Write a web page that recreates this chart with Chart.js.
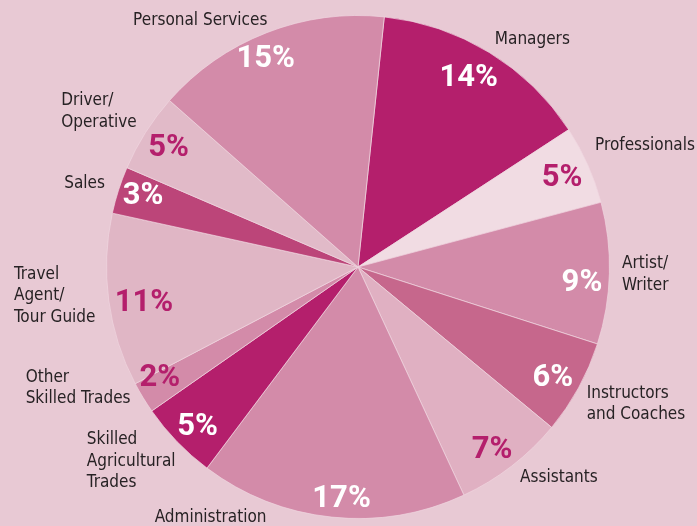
<!DOCTYPE html>
<html lang="en">
<head>
  <meta charset="UTF-8" />
  <title>Occupations pie</title>
  <script src="https://cdn.jsdelivr.net/npm/chart.js"></script>
  <style>
    body {
      margin: 0;
      background-color: #e8c9d4;
    }
    canvas {
      display: block;
    }
  </style>
</head>
<body>
  <canvas id="pieChart" width="697" height="526"></canvas>

  <script>
    // categories, clockwise from the top (line breaks as in the original)
    const categories = [
      ['Managers'],
      ['Professionals'],
      ['Artist/', 'Writer'],
      ['Instructors', 'and Coaches'],
      ['Assistants'],
      ['Administration'],
      ['Skilled', 'Agricultural', 'Trades'],
      ['Other', 'Skilled Trades'],
      ['Travel', 'Agent/', 'Tour Guide'],
      ['Sales'],
      ['Driver/', 'Operative'],
      ['Personal Services']
    ];
    const shares = [14, 5, 9, 6, 7, 17, 5, 2, 11, 3, 5, 15];

    const sliceColors = [
      '#b41f6c', '#f1dce3', '#d38ba9', '#c6678c', '#e0b0c2', '#d38ba9',
      '#b41f6c', '#d38ba9', '#e0b6c5', '#bc4579', '#e1bac8', '#d38ba9'
    ];
    const pctColors = [
      '#ffffff', '#b41f6c', '#ffffff', '#ffffff', '#b41f6c', '#ffffff',
      '#ffffff', '#b41f6c', '#b41f6c', '#ffffff', '#b41f6c', '#ffffff'
    ];

    // % labels inside: radius factor, angle nudge (deg)
    const pctLayout = [
      { r: 0.882, da: -1.5 }, { r: 0.89, da: -0.3 }, { r: 0.892, da: 1.9 },
      { r: 0.885, da: 0.2 }, { r: 0.892, da: 0.9 }, { r: 0.913, da: -1.9 },
      { r: 0.891, da: -0.3 }, { r: 0.897, da: 2.7 }, { r: 0.861, da: -1.2 },
      { r: 0.903, da: 1.1 }, { r: 0.896, da: 0.4 }, { r: 0.914, da: -2.4 }
    ];

    // names outside: radius factor, angle nudge (deg), alignment
    const labelLayout = [
      { r: 1.14, da: 6, align: 'center' },
      { r: 1.06, da: -3.2, align: 'left' },
      { r: 1.05, da: 0.2, align: 'left' },
      { r: 1.06, da: 2.2, align: 'left' },
      { r: 1.055, da: 0, align: 'left' },
      { r: 1.155, da: 24.5, align: 'center' },
      { r: 1.06, da: -2.8, align: 'right' },
      { r: 1.025, da: 3.2, align: 'right' },
      { r: 1.05, da: 1.4, align: 'right' },
      { r: 1.06, da: 0.5, align: 'right' },
      { r: 1.075, da: 2.7, align: 'right' },
      { r: 1.165, da: -11.3, align: 'center' }
    ];

    const rad = d => d * Math.PI / 180;

    // draws the % inside each slice and the name outside it
    const pieLabels = {
      id: 'pieLabels',
      afterDatasetsDraw(chart) {
        const ctx = chart.ctx;
        const arcs = chart.getDatasetMeta(0).data;
        ctx.save();
        arcs.forEach((arc, i) => {
          const p = arc.getProps(['x', 'y', 'startAngle', 'endAngle', 'outerRadius'], true);
          const mid = (p.startAngle + p.endAngle) / 2;

          // percentage (alphabetic baseline, shifted by half the cap height)
          const pl = pctLayout[i];
          const pa = mid + rad(pl.da);
          const pr = p.outerRadius * pl.r;
          ctx.font = 'bold 31px Roboto';
          ctx.fillStyle = pctColors[i];
          ctx.textAlign = 'center';
          ctx.textBaseline = 'alphabetic';
          ctx.fillText(shares[i] + '%', p.x + Math.cos(pa) * pr, p.y + Math.sin(pa) * pr + 11);

          // name
          const lay = labelLayout[i];
          const a = mid + rad(lay.da);
          const r = p.outerRadius * lay.r;
          const ax = p.x + Math.cos(a) * r;
          const ay = p.y + Math.sin(a) * r;
          const lines = categories[i];
          ctx.font = '17px "DejaVu Sans Condensed", "DejaVu Sans"';
          ctx.fillStyle = '#272224';
          ctx.textBaseline = 'middle';
          const w = Math.max(...lines.map(l => ctx.measureText(l).width));
          let tx;
          if (lay.align === 'center') {
            ctx.textAlign = 'center';
            tx = ax;
          } else {
            ctx.textAlign = 'left';
            tx = lay.align === 'left' ? ax : ax - w;
          }
          const lh = 21.5;
          lines.forEach((line, k) => {
            ctx.fillText(line, tx, ay + (k - (lines.length - 1) / 2) * lh);
          });
        });
        ctx.restore();
      }
    };

    new Chart(document.getElementById('pieChart'), {
      type: 'pie',
      data: {
        labels: categories.map(c => c.join(' ')),
        datasets: [{
          data: shares,
          backgroundColor: sliceColors,
          borderColor: 'rgba(240, 214, 224, 0.7)',
          borderWidth: 1,
          hoverOffset: 0
        }]
      },
      options: {
        responsive: false,
        animation: false,
        rotation: 6,
        layout: {
          padding: { left: 106, right: 87, top: 15, bottom: 7 }
        },
        plugins: {
          legend: { display: false },
          tooltip: { enabled: false }
        }
      },
      plugins: [pieLabels]
    });
  </script>
</body>
</html>
